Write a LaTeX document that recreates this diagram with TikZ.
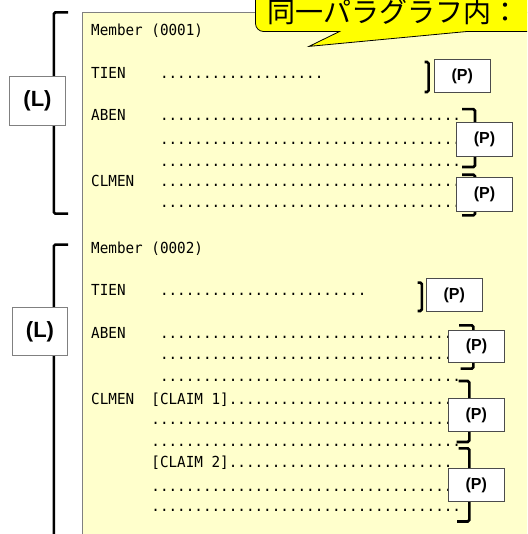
\documentclass[tikz,border=0pt]{standalone}
\usepackage{fontspec}
\newfontfamily\monof[FakeStretch=0.94]{DejaVu Sans Mono}
\newfontfamily\boxf{Liberation Sans}
\newfontfamily\jpf{Noto Sans CJK JP}
\definecolor{panelfill}{HTML}{FFFFCC}
\definecolor{calloutfill}{HTML}{FFFF00}
\definecolor{edgegray}{HTML}{808080}
\newcommand\dotrow[1]{\ifnum#1>0 .\expandafter\dotrow\expandafter{\the\numexpr#1-1\relax}\fi}
\begin{document}
\begin{tikzpicture}[x=1pt,y=-1pt,
  mono/.style={font=\monof\fontsize{15.2}{16}\selectfont, anchor=base west, inner sep=0pt},
  lbox/.style={draw=edgegray, fill=white, line width=0.9pt, inner sep=0pt,
    font=\boxf\bfseries\fontsize{22}{24}\selectfont},
  pbox/.style={draw=black!70, fill=white, line width=0.9pt, inner sep=0pt,
    minimum width=56pt, minimum height=33pt, font=\boxf\bfseries\fontsize{16}{18}\selectfont},
  brk/.style={line width=2.6pt, rounded corners=1.5pt},
  ]
\useasboundingbox (0,0) rectangle (527,534);
\clip (0,0) rectangle (527,534);
% panel
\fill[panelfill] (82.4,12.4) rectangle (560,560);
\draw[edgegray, line width=0.9pt] (82.4,560) -- (82.4,12.4) -- (560,12.4);
% callout
\draw[line width=0.8pt, fill=calloutfill] (255.5,-10) [rounded corners=8pt]-- (255.5,31.5) [sharp corners]-- (339.5,31.5) -- (309,46.4) -- (467,31.5) -- (560,31.5) -- (560,-10) -- cycle;
\node[font=\jpf\fontsize{28}{30}\selectfont, anchor=base west, inner sep=0pt] (ct) at (267.5,23) {同一パラグラフ内：};
% left brackets
\coordinate (lb1t) at (68,12.4);
\coordinate (lb1b) at (68,213.7);
\coordinate (lb2t) at (68,244.6);
\coordinate (lb2b) at (53.8,545);
\draw[brk] (lb1t) -- (53.8,12.4) -- (53.8,213.7) -- (lb1b);
\draw[brk] (lb2t) -- (53.8,244.6) -- (lb2b);
\node[lbox, minimum width=56pt, minimum height=49pt] (L1) at (37.5,100.5) {(L)};
\node[lbox, minimum width=54.4pt, minimum height=48pt] (L2) at (40,331.8) {(L)};
% member 1 text
\node[mono] (m1) at (91,35.3) {Member (0001)};
\node[mono] (t1) at (91,79) {TIEN};
\node[mono] (t1d) at (159.8,79) {\dotrow{19}};
\node[mono] (a1) at (91,121) {ABEN};
\node[mono] (a1d1) at (159.8,121) {\dotrow{35}};
\node[mono] (a1d2) at (159.8,144.4) {\dotrow{35}};
\node[mono] (a1d3) at (159.8,167) {\dotrow{35}};
\node[mono] (c1) at (91,186.6) {CLMEN};
\node[mono] (c1d1) at (159.8,186.6) {\dotrow{35}};
\node[mono] (c1d2) at (159.8,207.8) {\dotrow{35}};
% member 2 text
\node[mono] (m2) at (91,253.4) {Member (0002)};
\node[mono] (t2) at (91,295) {TIEN};
\node[mono] (t2d) at (159.8,295) {\dotrow{24}};
\node[mono] (a2) at (91,338.5) {ABEN};
\node[mono] (a2d1) at (159.8,338.5) {\dotrow{35}};
\node[mono] (a2d2) at (159.8,359.3) {\dotrow{35}};
\node[mono] (a2d3) at (159.8,381.8) {\dotrow{35}};
\node[mono] (c2) at (91,404) {CLMEN};
\node[mono] (cl1) at (151.2,404) {[CLAIM 1]\dotrow{26}};
\node[mono] (cl1d1) at (151.2,424.9) {\dotrow{35}};
\node[mono] (cl1d2) at (151.2,446.7) {\dotrow{36}};
\node[mono] (cl2) at (151.2,467.7) {[CLAIM 2]\dotrow{26}};
\node[mono] (cl2d1) at (151.2,491.1) {\dotrow{35}};
\node[mono] (cl2d2) at (151.2,511.2) {\dotrow{36}};
% P brackets
\draw[brk] (424.5,62) -- (428.6,62) -- (428.6,92) -- (424.5,92);
\draw[brk] (462,109.2) -- (475,109.2) -- (475,167) -- (462,167);
\draw[brk] (462,174.8) -- (475,174.8) -- (475,215.4) -- (462,215.4);
\draw[brk] (417.5,282.6) -- (421.8,282.6) -- (421.8,311) -- (417.5,311);
\draw[brk] (459,325.3) -- (473.3,325.3) -- (473.3,368.6) -- (460.5,368.6);
\draw[brk] (458.5,381) -- (469.3,381) -- (469.3,442) -- (456.7,442);
\draw[brk] (458.5,448.3) -- (469.3,448.3) -- (469.3,521.5) -- (457,521.5);
% P boxes
\node[pbox, minimum width=55.4pt] (P1) at (462.3,76) {(P)};
\node[pbox, minimum height=33.6pt] (P2) at (484.5,139.5) {(P)};
\node[pbox, minimum height=33.6pt] (P3) at (484.5,194.2) {(P)};
\node[pbox, minimum height=33.6pt] (P4) at (454.3,295) {(P)};
\node[pbox, minimum width=55.5pt, minimum height=32pt] (P5) at (476.5,346.6) {(P)};
\node[pbox, minimum width=55.5pt] (P6) at (476.3,415.1) {(P)};
\node[pbox, minimum width=55.5pt] (P7) at (476.3,485.3) {(P)};
\end{tikzpicture}
\end{document}
